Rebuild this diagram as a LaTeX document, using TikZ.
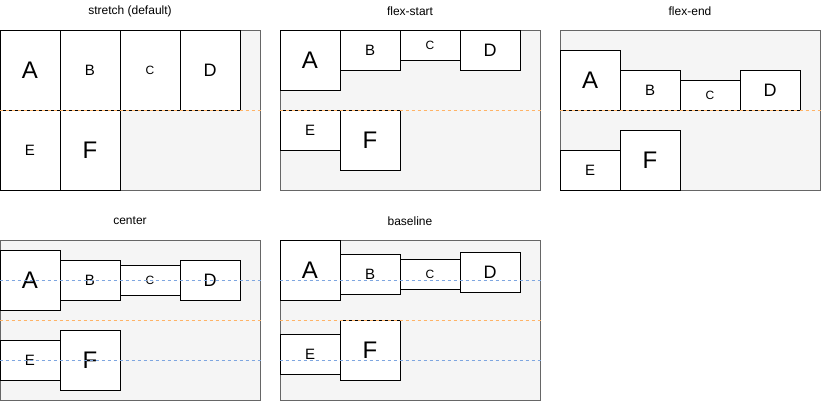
\documentclass[tikz,border=0pt]{standalone}
\usepackage{fontspec}
\setmainfont{Liberation Sans}
\definecolor{panelfill}{HTML}{F5F5F5}
\definecolor{panelline}{HTML}{666666}
\definecolor{rowline}{HTML}{FFB366}
\definecolor{midline}{HTML}{7EA6E0}
\begin{document}
\begin{tikzpicture}[x=1pt,y=-1pt,
panel/.style={draw=panelline,fill=panelfill,line width=1pt,minimum width=260pt,minimum height=160pt,inner sep=0pt},
item/.style={draw=black,fill=white,line width=1pt,minimum width=60pt,inner sep=0pt},
title/.style={font=\fontsize{12}{14}\selectfont},
huge/.style={font=\fontsize{24}{24}\selectfont},
large/.style={font=\fontsize{18}{18}\selectfont},
mid/.style={font=\fontsize{15}{15}\selectfont},
small/.style={font=\fontsize{12}{12}\selectfont},
rowsep/.style={draw=rowline,line width=1pt,dash pattern=on 3pt off 3pt},
centreline/.style={draw=midline,line width=1pt,dash pattern=on 3pt off 3pt}]
\useasboundingbox(0,0)rectangle(822,402);
\node[title](T1)at(130,11){stretch (default)};
\node[title](T2)at(410,11){flex-start};
\node[title](T3)at(690,11){flex-end};
\node[title](T4)at(130,221){center};
\node[title](T5)at(410,221){baseline};
\node[panel](P1)at(130,110){};
\node[panel](P2)at(410,110){};
\node[panel](P3)at(690,110){};
\node[panel](P4)at(130,320){};
\node[panel](P5)at(410,320){};
\node[item,huge,minimum height=80pt](A1)at(30,70){A};
\node[item,mid,minimum height=80pt](B1)at(90,70){B};
\node[item,small,minimum height=80pt](C1)at(150,70){C};
\node[item,large,minimum height=80pt](D1)at(210,70){D};
\node[item,mid,minimum height=80pt](E1)at(30,150){E};
\node[item,huge,minimum height=80pt](F1)at(90,150){F};
\node[item,huge,minimum height=60pt](A2)at(310,60){A};
\node[item,mid,minimum height=40pt](B2)at(370,50){B};
\node[item,small,minimum height=30pt](C2)at(430,45){C};
\node[item,large,minimum height=40pt](D2)at(490,50){D};
\node[item,mid,minimum height=40pt](E2)at(310,130){E};
\node[item,huge,minimum height=60pt](F2)at(370,140){F};
\node[item,huge,minimum height=60pt](A3)at(590,80){A};
\node[item,mid,minimum height=40pt](B3)at(650,90){B};
\node[item,small,minimum height=30pt](C3)at(710,95){C};
\node[item,large,minimum height=40pt](D3)at(770,90){D};
\node[item,mid,minimum height=40pt](E3)at(590,170){E};
\node[item,huge,minimum height=60pt](F3)at(650,160){F};
\node[item,huge,minimum height=60pt](A4)at(30,280){A};
\node[item,mid,minimum height=40pt](B4)at(90,280){B};
\node[item,small,minimum height=30pt](C4)at(150,280){C};
\node[item,large,minimum height=40pt](D4)at(210,280){D};
\node[item,mid,minimum height=40pt](E4)at(30,360){E};
\node[item,huge,minimum height=60pt](F4)at(90,360){F};
\node[item,huge,minimum height=60pt](A5)at(310,270){A};
\node[item,mid,minimum height=40pt](B5)at(370,274){B};
\node[item,small,minimum height=30pt](C5)at(430,274){C};
\node[item,large,minimum height=40pt](D5)at(490,272){D};
\node[item,mid,minimum height=40pt](E5)at(310,354){E};
\node[item,huge,minimum height=60pt](F5)at(370,350){F};
\draw[rowsep](P1.west)--(P1.east);
\draw[rowsep](P2.west)--(P2.east);
\draw[rowsep](P3.west)--(P3.east);
\draw[rowsep](P4.west)--(P4.east);
\draw[rowsep](P5.west)--(P5.east);
\draw[centreline](P4.west|-A4.center)--(P4.east|-A4.center);
\draw[centreline](P4.west|-E4.center)--(P4.east|-E4.center);
\draw[centreline](P5.west|-0,280)--(P5.east|-0,280);
\draw[centreline](P5.west|-0,360)--(P5.east|-0,360);
\end{tikzpicture}
\end{document}
